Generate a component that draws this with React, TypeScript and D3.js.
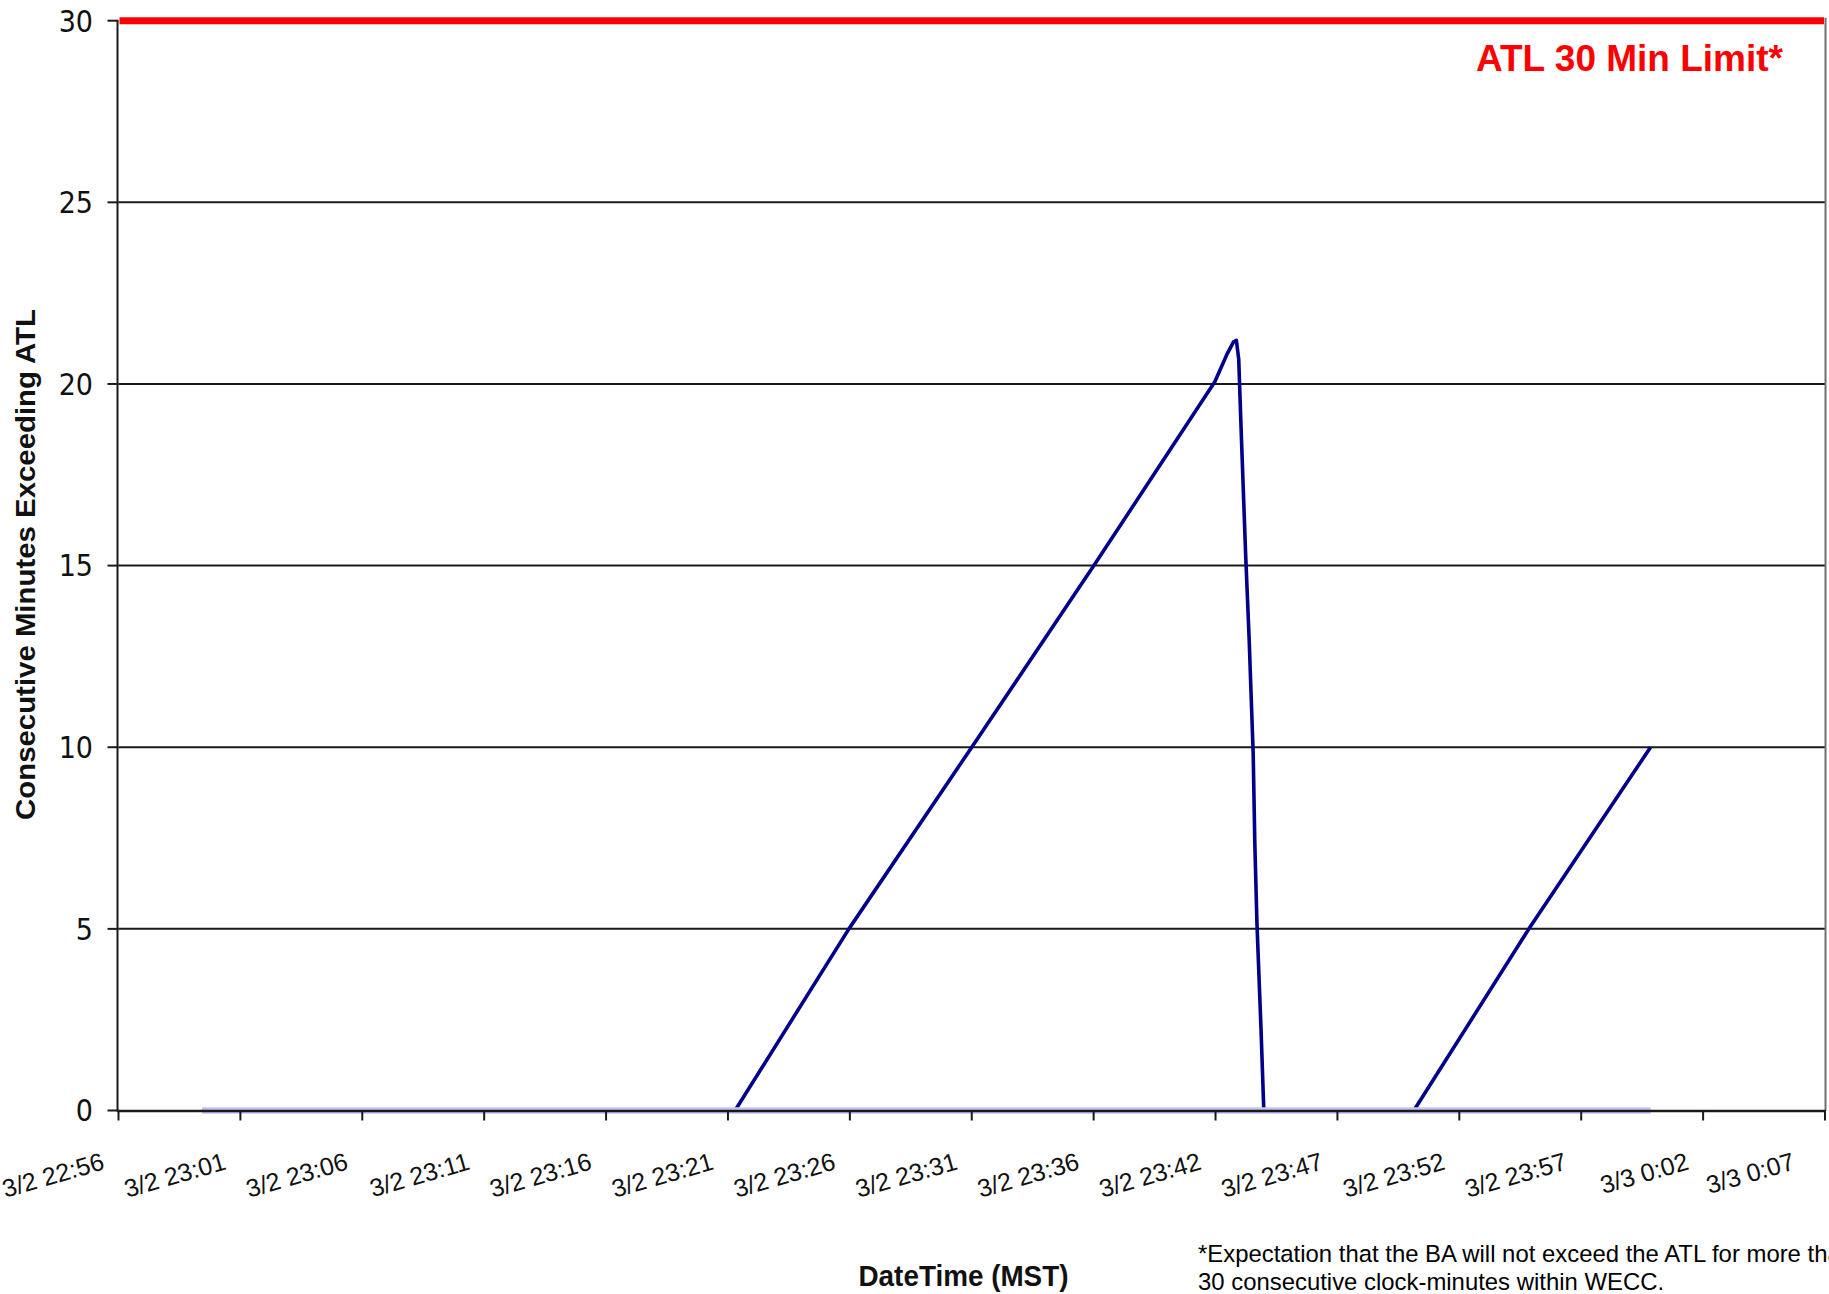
import React, { useEffect } from 'react';
import * as d3 from 'd3';

// ---- data ----
const X_TICK_LABELS = [
  '3/2 22:56', '3/2 23:01', '3/2 23:06', '3/2 23:11', '3/2 23:16',
  '3/2 23:21', '3/2 23:26', '3/2 23:31', '3/2 23:36', '3/2 23:42',
  '3/2 23:47', '3/2 23:52', '3/2 23:57', '3/3 0:02', '3/3 0:07',
];
const X_TICK_STEP_MIN = 5.15; // minutes between major ticks
const Y_TICK_VALUES = [0, 5, 10, 15, 20, 25, 30];
const Y_GRID_VALUES = [5, 10, 15, 20, 25];
const LIMIT_VALUE = 30;
const LIMIT_LABEL = 'ATL 30 Min Limit*';

// minutes after axis start, consecutive minutes exceeding ATL
const SERIES_MINUTES = [
  3.53, 26.05, 30.86, 36.05, 41.21, 46.32, 46.82, 47.11, 47.23,
  47.33, 47.43, 47.62, 47.77, 47.94, 48.01, 48.10, 48.27, 48.39,
  54.73, 59.59, 64.73,
];
const SERIES_VALUES = [
  0, 0, 5, 10, 15, 20.06, 20.8, 21.16, 21.2,
  20.68, 18.77, 15.34, 12.98, 9.84, 7.35, 5.15, 2.27, 0,
  0, 5, 10,
];
const BASELINE_MINUTES = [3.53, 64.73];
const BASELINE_VALUES = [0, 0];

const Y_TITLE = 'Consecutive Minutes Exceeding ATL';
const X_TITLE = 'DateTime (MST)';
const FOOTNOTE = [
  '*Expectation that the BA will not exceed the ATL for more than',
  '30 consecutive clock-minutes within WECC.',
];

const W = 1829;
const H = 1294;

export default function App() {
  useEffect(() => {
    document.body.style.margin = '0';
    document.body.style.overflow = 'hidden';
  }, []);

  const x = d3
    .scaleLinear()
    .domain([0, (X_TICK_LABELS.length - 1) * X_TICK_STEP_MIN])
    .range([118.5, 1825]);
  const y = d3.scaleLinear().domain([0, 30]).range([1110.5, 20.7]);

  const line = d3
    .line<[number, number]>()
    .x((d) => x(d[0]))
    .y((d) => y(d[1]));

  const seriesPts: [number, number][] = SERIES_MINUTES.map((m, i) => [m, SERIES_VALUES[i]]);
  const basePts: [number, number][] = BASELINE_MINUTES.map((m, i) => [m, BASELINE_VALUES[i]]);

  const [x0, x1] = x.range();
  const yBottom = y(0);
  const yTop = y(LIMIT_VALUE);
  const font = "'Liberation Sans', Arial, sans-serif";
  const narrow = "'Liberation Sans Narrow', 'DejaVu Sans Condensed', 'Liberation Sans', Arial, sans-serif";

  return (
    <svg
      width={W}
      height={H}
      viewBox={`0 0 ${W} ${H}`}
      style={{ position: 'absolute', left: 0, top: 0, display: 'block', background: '#fff' }}
    >
      <rect x={0} y={0} width={W} height={H} fill="#fff" />

      {/* grid lines */}
      {Y_GRID_VALUES.map((v) => (
        <line key={`g${v}`} x1={x0} x2={x1} y1={y(v)} y2={y(v)} stroke="#1a1a1a" strokeWidth={2} />
      ))}

      {/* right border */}
      <line x1={x1 + 0.5} x2={x1 + 0.5} y1={yTop - 3} y2={yBottom} stroke="#707070" strokeWidth={2} />

      {/* data series */}
      <path d={line(seriesPts) || ''} fill="none" stroke="#00008b" strokeWidth={3.6} strokeLinejoin="round" />
      <path d={line(basePts) || ''} fill="none" stroke="#c4c4f2" strokeWidth={6.5} />

      {/* limit line */}
      <line x1={x0 + 1} x2={x1 - 1} y1={yTop} y2={yTop} stroke="#ff0000" strokeWidth={7} />
      <text
        x={1783}
        y={71}
        textAnchor="end"
        fontFamily={font}
        fontWeight="bold"
        fontSize={37}
        fill="#ff0000"
      >
        {LIMIT_LABEL}
      </text>

      {/* y axis */}
      <line x1={x0 - 1} x2={x0 - 1} y1={yTop} y2={yBottom + 1} stroke="#1a1a1a" strokeWidth={2} />
      {Y_TICK_VALUES.map((v) => (
        <g key={`yt${v}`}>
          <line x1={x0 - 11} x2={x0} y1={y(v)} y2={y(v)} stroke="#1a1a1a" strokeWidth={2} />
          <text
            x={93}
            y={y(v)}
            dy="0.36em"
            textAnchor="end"
            fontFamily={narrow}
            fontSize={30}
            fill="#111"
          >
            {v}
          </text>
        </g>
      ))}

      {/* x axis */}
      <line x1={x0 - 1} x2={x1 + 1} y1={yBottom + 0.5} y2={yBottom + 0.5} stroke="#1a1a1a" strokeWidth={2.4} />
      {X_TICK_LABELS.map((lab, i) => {
        const tx = x(i * X_TICK_STEP_MIN);
        const ex = Math.min(tx - 13, 1796);
        return (
          <g key={`xt${i}`}>
            <line x1={tx} x2={tx} y1={yBottom} y2={yBottom + 10} stroke="#1a1a1a" strokeWidth={2} />
            <text
              transform={`translate(${ex},${1169}) rotate(-16)`}
              textAnchor="end"
              fontFamily={font}
              fontSize={25}
              fill="#111"
            >
              {lab}
            </text>
          </g>
        );
      })}

      {/* axis titles */}
      <text
        transform={`translate(35,${564.5}) rotate(-90)`}
        textAnchor="middle"
        fontFamily={font}
        fontWeight="bold"
        fontSize={27}
        textLength={511}
        lengthAdjust="spacingAndGlyphs"
        fill="#111"
      >
        {Y_TITLE}
      </text>
      <text
        x={963.5}
        y={1286}
        textAnchor="middle"
        fontFamily={font}
        fontWeight="bold"
        fontSize={29}
        textLength={210}
        lengthAdjust="spacingAndGlyphs"
        fill="#111"
      >
        {X_TITLE}
      </text>

      {/* footnote */}
      {FOOTNOTE.map((t, i) => (
        <text key={`fn${i}`} x={1198} y={1262 + i * 28} fontFamily={font} fontSize={23.9} fill="#000">
          {t}
        </text>
      ))}
    </svg>
  );
}
